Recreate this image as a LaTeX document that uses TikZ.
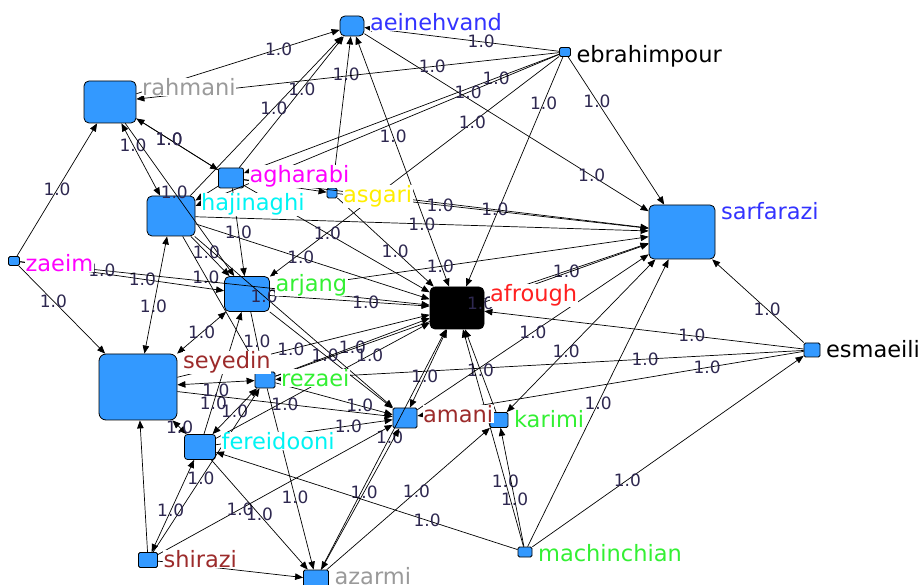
\documentclass[tikz,border=0pt]{standalone}
\usepackage{fontspec}
\setmainfont{DejaVu Sans}
\usetikzlibrary{arrows.meta}
\definecolor{nodeblue}{HTML}{3399FF}
\definecolor{nameblue}{HTML}{3333FF}
\definecolor{namegray}{HTML}{9A9A9A}
\definecolor{namemagenta}{HTML}{FF00FF}
\definecolor{nameyellow}{HTML}{FFEE00}
\definecolor{namecyan}{HTML}{00F4F4}
\definecolor{namegreen}{HTML}{33F033}
\definecolor{namered}{HTML}{FF2020}
\definecolor{namebrown}{HTML}{9C2B2B}
\definecolor{tiecolor}{HTML}{2E2850}
\tikzset{
  actor/.style={draw=black, fill=nodeblue, line width=0.8pt, inner sep=0pt,
                rounded corners=5pt},
  smallactor/.style={actor, rounded corners=1.5pt},
  actorname/.style={anchor=base west, inner sep=0.5pt, fill=white,
                    font=\fontsize{22.5}{26}\selectfont},
  tie/.style={line width=0.7pt, -{Triangle[length=8pt,width=6.5pt]}},
  mutual/.style={tie, {Triangle[length=8pt,width=6.5pt]}-{Triangle[length=8pt,width=6.5pt]}},
  val/.style={inner sep=0pt, text=tiecolor, font=\fontsize{17}{20}\selectfont}
}

\begin{document}
\begin{tikzpicture}[x=1pt, y=-1pt]
  \useasboundingbox (0,0) rectangle (919,585);
  % Actors
  \node[actor, minimum width=24pt, minimum height=20pt] (ae) at (352,26) {};
  \node[smallactor, minimum width=11pt, minimum height=9pt] (eb) at (565,52) {};
  \node[actor, minimum width=52pt, minimum height=42pt] (ra) at (110,102) {};
  \node[actor, rounded corners=2pt, minimum width=25pt, minimum height=20pt] (ag) at (231,178) {};
  \node[smallactor, minimum width=10pt, minimum height=10pt] (as) at (332,193) {};
  \node[actor, minimum width=48pt, minimum height=40pt] (ha) at (171,216) {};
  \node[actor, minimum width=66pt, minimum height=54pt] (sa) at (682,232) {};
  \node[smallactor, minimum width=11pt, minimum height=9pt] (za) at (14,261) {};
  \node[actor, minimum width=45pt, minimum height=35pt] (ar) at (247,294) {};
  \node[actor, fill=black, minimum width=54pt, minimum height=42pt] (af) at (457,308) {};
  \node[smallactor, minimum width=16pt, minimum height=14pt] (es) at (812,350) {};
  \node[actor, rounded corners=7pt, minimum width=78pt, minimum height=66pt] (se) at (138,387) {};
  \node[smallactor, minimum width=20pt, minimum height=16pt] (re) at (265,380) {};
  \node[smallactor, minimum width=24pt, minimum height=20pt] (am) at (405,418) {};
  \node[smallactor, minimum width=18pt, minimum height=15pt] (ka) at (499,420) {};
  \node[actor, rounded corners=3pt, minimum width=31pt, minimum height=25pt] (fe) at (200,447) {};
  \node[smallactor, minimum width=19pt, minimum height=15pt] (sh) at (148,560) {};
  \node[smallactor, minimum width=14pt, minimum height=10pt] (ma) at (525,552) {};
  \node[smallactor, minimum width=25pt, minimum height=18pt] (az) at (316,579) {};
  % Ties around aeinehvand and ebrahimpour
  \draw[tie] (ra) -- node[val, pos=.7] {1.0} (ae);
  \draw[tie] (ag) -- node[val, pos=.6] {1.0} (ae);
  \draw[tie] (as) -- node[val, pos=.75] {1.0} (ae);
  \draw[tie] (ha) -- node[val, pos=.55] {1.0} (ae);
  \draw[tie] (eb) -- node[val, pos=.4] {1.0} (ae);
  \draw[mutual] (ae) -- node[val, pos=.4] {1.0} (af);
  \draw[tie] (ae) -- node[val, pos=.8] {1.0} (sa);
  \draw[tie] (eb) -- node[val, pos=.3] {1.0} (ra);
  \draw[tie] (eb) -- node[val, pos=.2] {1.0} (ag);
  \draw[tie] (eb) -- node[val, pos=.25] {1.0} (ha);
  \draw[tie] (eb) -- node[val, pos=.3] {1.0} (sa);
  \draw[tie] (eb) -- node[val, pos=.2] {1.0} (af);
  \draw[tie] (eb) -- node[val, pos=.3] {1.0} (ar);
  % Ties around rahmani, hajinaghi, agharabi, asgari
  \draw[mutual] (ra) -- node[val, pos=.3] {1.0} (ha);
  \draw[tie] (ra) -- node[val, pos=.45] {1.0} (ar);
  \draw[tie] (ra) -- node[val, pos=.4] {1.0} (ag);
  \draw[tie] (ag) -- node[val, pos=.6] {1.0} (ra);
  \draw[tie] (za) -- node[val] {1.0} (ra);
  \draw[mutual] (ha) -- node[val, pos=.6] {1.0} (se);
  \draw[tie] (ha) -- node[val, pos=.4] {1.0} (ar);
  \draw[tie] (ha) -- node[val, pos=.45] {1.0} (af);
  \draw[tie] (ha) -- node[val, pos=.5] {1.0} (sa);
  \draw[tie] (ha) -- node[val, pos=.35] {1.0} (am);
  \draw[tie] (ha) -- node[val, pos=.3] {1.0} (re);
  \draw[tie] (ag) -- (ha);
  \draw[tie] (ag) -- (as);
  \draw[tie] (ag) -- node[val, pos=.62] {1.0} (sa);
  \draw[tie] (as) -- node[val, pos=.33] {1.0} (sa);
  \draw[tie] (as) -- node[val, pos=.6] {1.0} (af);
  \draw[tie] (ag) -- node[val, pos=.45] {1.0} (af);
  \draw[tie] (ag) -- node[val, pos=.5] {1.0} (ar);
  % Ties around zaeim and arjang
  \draw[tie] (za) -- node[val, pos=.4] {1.0} (se);
  \draw[tie] (za) -- node[val, pos=.6] {1.0} (ar);
  \draw[tie] (za) -- node[val, pos=.2] {1.0} (af);
  \draw[tie] (ar) -- node[val, pos=.6] {1.0} (af);
  \draw[tie] (ar) -- node[val, pos=.45] {1.0} (sa);
  \draw[mutual] (ar) -- node[val, pos=.5] {1.0} (se);
  \draw[tie] (ar) -- node[val, pos=.5] {1.0} (re);
  \draw[tie] (ar) -- node[val, pos=.45] {1.0} (am);
  \draw[tie] (fe) -- node[val, pos=.25] {1.0} (ar);
  % Ties around afrough, sarfarazi, esmaeili
  \draw[tie] (af) -- node[val, pos=.5] {1.0} (sa);
  \draw[tie] (es) -- node[val, pos=.35] {1.0} (af);
  \draw[tie] (es) -- node[val, pos=.4] {1.0} (sa);
  \draw[tie] (es) -- node[val, pos=.25] {1.0} (am);
  \draw[tie] (es) -- node[val, pos=.3] {1.0} (re);
  \draw[mutual] (am) -- node[val, pos=.4] {1.0} (af);
  \draw[tie] (re) -- node[val, pos=.5] {1.0} (af);
  \draw[tie] (se) -- node[val, pos=.45] {1.0} (af);
  \draw[tie] (fe) -- node[val, pos=.72] {1.0} (af);
  \draw[tie] (ka) -- node[val, pos=.5] {1.0} (af);
  \draw[tie] (ma) -- node[val, pos=.3] {1.0} (af);
  \draw[tie] (az) -- node[val, pos=.55] {1.0} (af);
  \draw[mutual] (ka) -- node[val, pos=.4] {1.0} (sa);
  \draw[tie] (am) -- node[val, pos=.5] {1.0} (sa);
  \draw[tie] (re) -- node[val, pos=.55] {1.0} (sa);
  % Ties around amani, seyedin, rezaei, fereidooni
  \draw[mutual] (am) -- node[val, pos=.45] {1.0} (az);
  \draw[tie] (se) -- node[val, pos=.5] {1.0} (am);
  \draw[tie] (re) -- node[val, pos=.72] {1.0} (am);
  \draw[tie] (fe) -- node[val, pos=.75] {1.0} (am);
  \draw[tie] (sh) -- node[val, pos=.35] {1.0} (am);
  \draw[tie] (az) -- node[val, pos=.55] {1.0} (ka);
  \draw[mutual] (se) -- node[val, pos=.5] {1.0} (fe);
  \draw[mutual] (se) -- node[val, pos=.5, below=1pt] {1.0} (re);
  \draw[tie] (sh) -- (se);
  \draw[mutual] (fe) -- node[val, pos=.5] {1.0} (re);
  \draw[tie] (fe) -- node[val, pos=.5] {1.0} (az);
  \draw[tie] (re) -- node[val, pos=.6] {1.0} (az);
  \draw[tie] (sh) -- node[val, pos=.45] {1.0} (re);
  % Ties around shirazi and machinchian
  \draw[tie] (sh) -- (az);
  \draw[mutual] (sh) -- node[val, pos=.45] {1.0} (fe);
  \draw[tie] (ma) -- node[val, pos=.4] {1.0} (ka);
  \draw[tie] (ma) -- node[val, pos=.5] {1.0} (sa);
  \draw[tie] (ma) -- node[val, pos=.35] {1.0} (es);
  \draw[tie] (ma) -- node[val, pos=.3] {1.0} (fe);
  % Names, on top of the ties
  \node[actorname, text=nameblue] (ae-n) at ([xshift=5pt,yshift=-15pt]ae.north east) {aeinehvand};
  \node[actorname, text=black] (eb-n) at ([xshift=5pt,yshift=-15pt]eb.north east) {ebrahimpour};
  \node[actorname, text=namegray] (ra-n) at ([xshift=5pt,yshift=-15pt]ra.north east) {rahmani};
  \node[actorname, text=namemagenta] (ag-n) at ([xshift=5pt,yshift=-15pt]ag.north east) {agharabi};
  \node[actorname, text=nameyellow] (as-n) at ([xshift=5pt,yshift=-15pt]as.north east) {asgari};
  \node[actorname, text=namecyan] (ha-n) at ([xshift=5pt,yshift=-15pt]ha.north east) {hajinaghi};
  \node[actorname, text=nameblue] (sa-n) at ([xshift=5pt,yshift=-15pt]sa.north east) {sarfarazi};
  \node[actorname, text=namemagenta] (za-n) at ([xshift=5pt,yshift=-15pt]za.north east) {zaeim};
  \node[actorname, text=namegreen] (ar-n) at ([xshift=5pt,yshift=-15pt]ar.north east) {arjang};
  \node[actorname, text=namered] (af-n) at ([xshift=5pt,yshift=-15pt]af.north east) {afrough};
  \node[actorname, text=black] (es-n) at ([xshift=5pt,yshift=-15pt]es.north east) {esmaeili};
  \node[actorname, text=namebrown] (se-n) at ([xshift=5pt,yshift=-15pt]se.north east) {seyedin};
  \node[actorname, text=namegreen] (re-n) at ([xshift=5pt,yshift=-15pt]re.north east) {rezaei};
  \node[actorname, text=namebrown] (am-n) at ([xshift=5pt,yshift=-15pt]am.north east) {amani};
  \node[actorname, text=namegreen] (ka-n) at ([xshift=5pt,yshift=-15pt]ka.north east) {karimi};
  \node[actorname, text=namecyan] (fe-n) at ([xshift=5pt,yshift=-15pt]fe.north east) {fereidooni};
  \node[actorname, text=namebrown] (sh-n) at ([xshift=5pt,yshift=-15pt]sh.north east) {shirazi};
  \node[actorname, text=namegreen] (ma-n) at ([xshift=5pt,yshift=-15pt]ma.north east) {machinchian};
  \node[actorname, text=namegray] (az-n) at ([xshift=5pt,yshift=-15pt]az.north east) {azarmi};
\end{tikzpicture}
\end{document}
